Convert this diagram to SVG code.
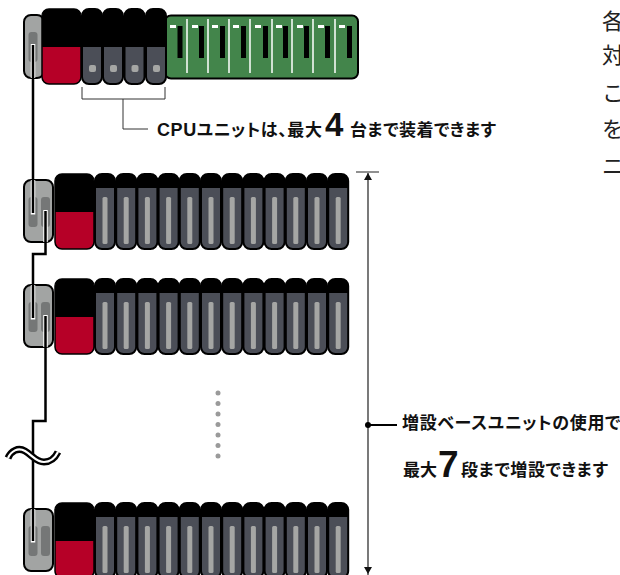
<svg xmlns="http://www.w3.org/2000/svg" width="620" height="575" viewBox="0 0 620 575">
<style>
.t{font-family:"Liberation Sans","Noto Sans CJK JP",sans-serif;font-weight:700;fill:#111;font-size:17px;font-feature-settings:"palt"}
.b{font-family:"Liberation Sans",sans-serif;font-weight:700;fill:#111}
.r{font-family:"Noto Sans CJK JP",sans-serif;fill:#222;font-size:22px}
.o{stroke:#000;stroke-width:2}
.g{fill:#a2a4a3}
.s{fill:#757777}
.u{fill:#4b4e57}
.h{fill:none;stroke:#fff;stroke-width:4.500}
.l{fill:none;stroke:#000;stroke-width:2.500;stroke-linejoin:miter}
.k{fill:none;stroke:#333;stroke-width:1}
.d{fill:#9a9a9a}
</style>
<defs>
<g id="unit">
<rect class="u o" x="0" y="0" width="20" height="75" rx="7"/>
<path d="M0 14V7a7 7 0 0 1 7-7h6a7 7 0 0 1 7 7v7z" fill="#000"/>
<rect x="7.500" y="23" width="5" height="47" rx="1.500" fill="#a5a6a4"/>
</g>
<g id="cpuu">
<rect class="u o" x="0" y="0" width="20" height="75" rx="7"/>
<path d="M0 38V7a7 7 0 0 1 7-7h6a7 7 0 0 1 7 7v31z" fill="#000"/>
<rect x="7" y="56" width="7" height="7" rx="2" fill="#a5a6a4"/>
</g>
<g id="red">
<rect x="0" y="0" width="39" height="75" rx="7" fill="#000"/>
<path d="M0 38H39V68a7 7 0 0 1-7 7H7a7 7 0 0 1-7-7z" fill="#b60027"/>
<rect x="0" y="0" width="39" height="75" rx="7" fill="none" stroke="#000" stroke-width="1.500"/>
</g>
<g id="ext">
<rect class="g o" x="24" y="0" width="29" height="62" rx="7"/>
<rect class="s" x="28.500" y="17" width="9" height="30" rx="3"/>
<rect class="s" x="41" y="17" width="9" height="30" rx="3"/>
</g>
<g id="units">
<use href="#unit" x="95"/><use href="#unit" x="116.200"/><use href="#unit" x="137.400"/><use href="#unit" x="158.600"/>
<use href="#unit" x="179.800"/><use href="#unit" x="201"/><use href="#unit" x="222.200"/><use href="#unit" x="243.400"/>
<use href="#unit" x="264.600"/><use href="#unit" x="285.800"/><use href="#unit" x="307"/><use href="#unit" x="328.200"/>
</g>
</defs>
<g id="main-rack">
<rect class="g o" x="24" y="15" width="20" height="63" rx="7"/>
<rect class="s" x="28.500" y="32" width="9" height="30" rx="3"/>
<rect x="165" y="15.500" width="193" height="63" rx="6" fill="#43854b" stroke="#000" stroke-width="2"/>
<path d="M187 19V73M208 19V73M229 19V73M250 19V73M272 19V73M292 19V73M313 19V73M335 19V73" stroke="#fff" stroke-width="1.500"/>
<path d="M170 25h6v3h-6zM192 25h6v3h-6zM212 25h6v3h-6zM233 25h6v3h-6zM255 25h6v3h-6zM276 25h6v3h-6zM297 25h6v3h-6zM318 25h6v3h-6zM339 25h6v3h-6z" fill="#fff"/>
<path d="M177.500 26h5v32h-5zM199 26h5v32h-5zM220 26h5v32h-5zM241 26h5v32h-5zM263 26h5v32h-5zM283 26h5v32h-5zM304 26h5v32h-5zM325 26h5v32h-5zM347 26h5v32h-5z" fill="#000"/>
<use href="#red" x="42" y="9"/>
<use href="#cpuu" x="82" y="9"/><use href="#cpuu" x="103" y="9"/><use href="#cpuu" x="124.500" y="9"/><use href="#cpuu" x="146" y="9"/>
</g>
<g id="rack-2"><use href="#ext" y="180"/><use href="#red" x="55" y="174"/><use href="#units" y="174"/></g>
<g id="rack-3"><use href="#ext" y="285"/><use href="#red" x="55" y="279"/><use href="#units" y="279"/></g>
<g id="rack-4"><use href="#ext" y="509"/><use href="#red" x="55" y="503"/><use href="#units" y="503"/></g>
<g id="connectors">
<path class="h" d="M33 44V78M33 180V214.500M45.500 210V242M33 285V319.500M45.500 315V347M33 509V542.500"/>
<path class="l" d="M33 45V213"/>
<path class="l" d="M45.500 211V254H33V318"/>
<path class="l" d="M45.500 316V421H33V541"/>
<path d="M8 458C11 451 18 447 25 451C32 455 36 462 44 462C50 462 55 458 58 452" fill="none" stroke="#000" stroke-width="7"/>
<path d="M8 458C11 451 18 447 25 451C32 455 36 462 44 462C50 462 55 458 58 452" fill="none" stroke="#fff" stroke-width="2.200"/>
<path class="k" d="M82 87V99H165V87M123 99V129H148"/>
<path d="M368 173V575M356 172H379" fill="none" stroke="#222" stroke-width="1.200"/>
<path d="M364 180L368 173L372 180zM364 567L368 574L372 567z" fill="#111"/>
<circle cx="368" cy="425" r="3" fill="#000"/><path d="M368 425H397" stroke="#000" stroke-width="2"/>
</g>
<g id="dots">
<circle class="d" cx="218" cy="393" r="2.500"/><circle class="d" cx="218" cy="403.500" r="2.500"/><circle class="d" cx="218" cy="414" r="2.500"/><circle class="d" cx="218" cy="424.500" r="2.500"/><circle class="d" cx="218" cy="435" r="2.500"/><circle class="d" cx="218" cy="445.500" r="2.500"/><circle class="d" cx="218" cy="456" r="2.500"/>
</g>
<g id="labels">
<text class="t" x="157" y="136" letter-spacing="0.600"><tspan font-size="18">CPU</tspan>ユニットは、最大</text>
<text class="b" x="325" y="135.500" font-size="33">4</text>
<text class="t" x="350" y="136" letter-spacing="0.450">台まで装着できます</text>
<text class="t" x="402" y="429" letter-spacing="0.700">増設ベースユニットの使用で</text>
<text class="t" x="403" y="476">最大</text>
<text class="b" x="438" y="477" font-size="37">7</text>
<text class="t" x="461" y="476" letter-spacing="0.550">段まで増設できます</text>
</g>
<g id="side-text">
<text class="r" x="602" y="29">各</text>
<text class="r" x="602" y="63">対</text>
<text class="r" x="602" y="101">こ</text>
<text class="r" x="602" y="137">を</text>
<text class="r" x="602" y="174">ニ</text>
</g>
</svg>
